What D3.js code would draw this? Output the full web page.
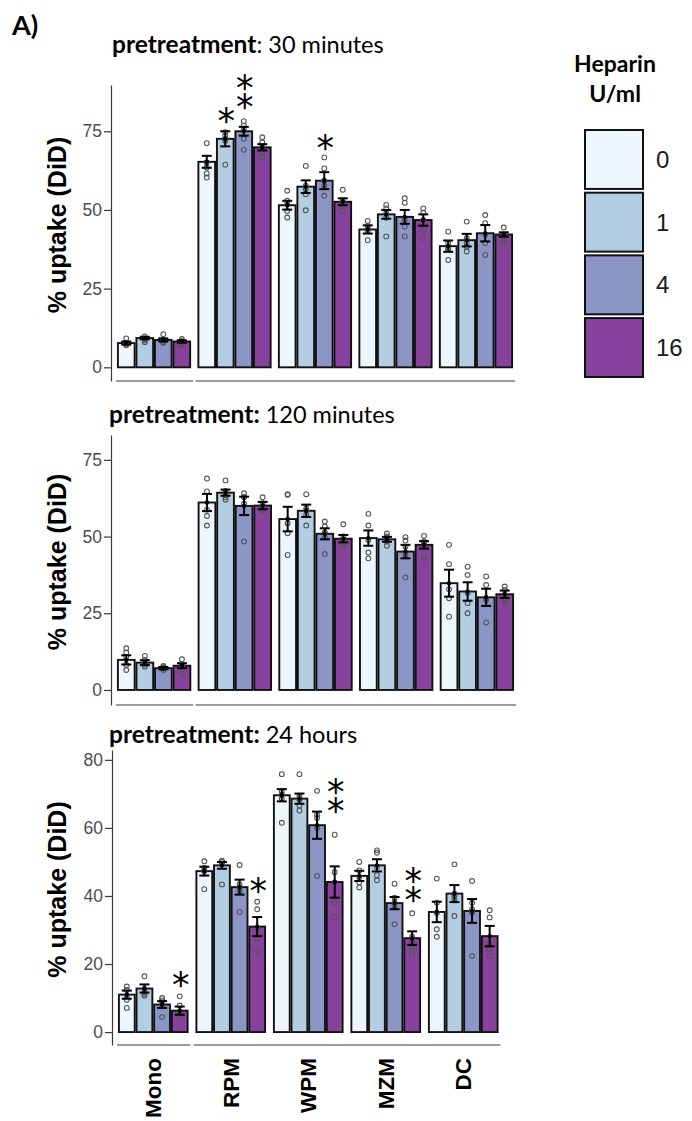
<!DOCTYPE html>
<html>
<head>
<meta charset="utf-8">
<script src="https://cdn.jsdelivr.net/npm/d3@7"></script>
<style>
  body { margin: 0; background: #fff; }
  svg { display: block; }
</style>
</head>
<body>
<svg id="chart" width="692" height="1121"></svg>
<script>
// ---- data ---------------------------------------------------------------
const cellTypes = ["Mono", "RPM", "WPM", "MZM", "DC"];
const heparinDoses = ["0", "1", "4", "16"];
const doseColours = ["#edf6fa", "#b3cde3", "#8c96c6", "#88419d"];

// 30 minute pretreatment: mean, SEM and replicate values per cell type x dose
const mean30 = [
  [7.7, 9.3, 8.7, 8.2],
  [65.3, 72.6, 75.0, 69.9],
  [51.5, 57.4, 59.3, 52.6],
  [43.8, 48.6, 47.8, 46.8],
  [38.5, 40.4, 42.6, 42.2]
];
const sem30 = [
  [0.5, 0.4, 0.5, 0.4],
  [1.9, 2.4, 1.4, 1.0],
  [1.4, 2.0, 2.7, 1.1],
  [1.3, 1.4, 2.2, 1.8],
  [1.8, 2.0, 2.6, 0.7]
];
const reps30 = [
  [[9.2, 7.5, 7.0, 7.2, 7.8], [9.8, 9.2, 8.5, 8.0, 9.0], [10.5, 8.5, 8.0, 7.8, 8.6], [9.0, 8.2, 7.5, 7.0, 8.3]],
  [[71.2, 65.1, 63.5, 61.6, 60.3], [74.7, 73.6, 72.5, 72.0, 64.4], [78.2, 76.8, 75.5, 72.6, 69.1], [73.1, 71.5, 69.9, 68.3, 66.9]],
  [[56.1, 52.9, 51.8, 49.7, 47.6], [64.0, 57.7, 56.6, 55.0, 49.9], [66.7, 63.2, 59.3, 57.7, 54.5], [56.4, 52.9, 52.5, 51.3, 49.7]],
  [[46.5, 44.9, 44.3, 43.3, 40.4], [51.6, 50.5, 49.0, 47.5, 41.6], [53.7, 52.3, 46.8, 44.7, 41.6], [50.5, 49.1, 46.8, 43.6, 41.0]],
  [[43.1, 39.4, 37.8, 37.3, 34.1], [46.3, 41.0, 39.4, 38.3, 36.8], [48.4, 45.8, 42.1, 39.4, 35.7], [44.4, 42.1, 41.7, 41.0, 39.4]]
];
const stars30 = [
  { type: "RPM", dose: "1", label: "*", at: 80.8 },
  { type: "RPM", dose: "4", label: "**", at: 88.1 },
  { type: "WPM", dose: "4", label: "*", at: 72.1 }
];

// 120 minute pretreatment
const mean120 = [
  [9.8, 8.9, 7.1, 7.9],
  [61.1, 64.3, 60.0, 60.1],
  [55.7, 58.4, 50.9, 49.3],
  [49.5, 49.1, 45.1, 47.3],
  [34.8, 32.1, 30.2, 31.2]
];
const sem120 = [
  [1.5, 0.8, 0.4, 0.8],
  [2.8, 1.0, 3.0, 1.2],
  [4.0, 2.0, 1.8, 1.2],
  [2.5, 0.8, 2.2, 1.2],
  [4.4, 3.0, 2.8, 1.2]
];
const reps120 = [
  [[13.6, 12.2, 10.7, 8.2, 6.5], [11.1, 9.8, 8.7, 8.2, 7.6], [7.8, 7.4, 7.2, 7.0, 6.5], [10.0, 8.5, 7.8, 7.6, 5.4]],
  [[68.9, 64.7, 58.7, 56.7, 53.6], [68.3, 64.9, 63.5, 62.8, 62.0], [64.1, 63.0, 62.8, 60.7, 48.4], [62.8, 60.9, 59.8, 58.7, 58.5]],
  [[63.8, 63.6, 54.3, 51.1, 44.0], [63.8, 59.2, 58.5, 57.1, 53.6], [54.9, 53.3, 51.4, 49.7, 44.3], [54.0, 50.0, 48.9, 48.0, 46.7]],
  [[57.4, 53.6, 48.9, 44.8, 42.9], [51.0, 50.0, 49.3, 48.4, 47.0], [49.8, 48.7, 46.7, 44.0, 36.7], [50.2, 48.4, 47.8, 46.5, 42.9]],
  [[47.3, 41.0, 32.8, 29.9, 23.9], [40.2, 37.5, 31.7, 28.3, 25.0], [37.0, 34.2, 29.9, 29.3, 22.0], [33.7, 32.6, 31.0, 29.3, 28.3]]
];
const stars120 = [];

// 24 hour pretreatment
const mean24 = [
  [11.0, 12.8, 8.1, 6.3],
  [47.3, 49.0, 42.6, 31.0],
  [69.6, 68.6, 60.8, 44.1],
  [45.9, 49.0, 37.9, 27.6],
  [35.3, 40.7, 35.6, 28.2]
];
const sem24 = [
  [1.2, 1.2, 1.0, 1.2],
  [1.3, 1.0, 2.2, 2.8],
  [1.8, 1.5, 4.0, 4.6],
  [1.5, 1.8, 1.8, 2.0],
  [3.0, 2.5, 3.5, 3.0]
];
const reps24 = [
  [[13.4, 12.4, 10.7, 9.5, 7.1], [16.4, 12.7, 11.7, 11.2, 10.7], [10.0, 9.3, 8.8, 7.8, 4.4], [10.5, 7.8, 5.9, 5.4, 4.4]],
  [[50.2, 48.3, 47.5, 47.3, 42.0], [50.4, 50.0, 49.5, 49.3, 43.4], [49.1, 43.4, 42.4, 41.5, 35.3], [38.3, 36.1, 30.2, 27.3, 23.7]],
  [[75.8, 70.7, 69.8, 68.6, 61.5], [75.8, 69.3, 68.3, 66.6, 65.1], [70.9, 63.9, 62.9, 60.0, 45.9], [58.0, 47.0, 44.0, 38.0, 33.7]],
  [[50.0, 47.5, 45.5, 44.0, 42.5], [53.4, 52.7, 48.5, 46.1, 44.6], [43.6, 39.5, 38.2, 37.1, 31.7], [34.9, 28.0, 25.9, 24.4, 22.9]],
  [[45.1, 38.0, 35.0, 30.2, 28.0], [49.3, 40.7, 40.0, 39.0, 34.1], [44.4, 38.0, 36.1, 35.1, 22.4], [35.8, 33.7, 25.9, 24.4, 22.4]]
];
const stars24 = [
  { type: "Mono", dose: "16", label: "*", at: 16.1 },
  { type: "RPM", dose: "16", label: "*", at: 43.7 },
  { type: "WPM", dose: "16", label: "**", at: 69.9 },
  { type: "MZM", dose: "16", label: "**", at: 43.9 }
];

const ticks30 = [0, 25, 50, 75];
const ticks120 = [0, 25, 50, 75];
const ticks24 = [0, 20, 40, 60, 80];

// ---- panel layout --------------------------------------------------------
const panels = [
  {
    titleBold: "pretreatment", titleRest: ": 30 minutes", titleX: 112, titleY: 53,
    mean: mean30, sem: sem30, reps: reps30, stars: stars30, ticks: ticks30,
    yDomain: [-4.35, 89.7], yRange: [381, 85], axisX: 111, xRange: [117, 513], pad: 0.08
  },
  {
    titleBold: "pretreatment:", titleRest: " 120 minutes", titleX: 109, titleY: 423,
    mean: mean120, sem: sem120, reps: reps120, stars: stars120, ticks: ticks120,
    yDomain: [-4.9, 83.1], yRange: [705, 435], axisX: 111, xRange: [117, 514], pad: 0.08
  },
  {
    titleBold: "pretreatment:", titleRest: " 24 hours", titleX: 109, titleY: 743,
    mean: mean24, sem: sem24, reps: reps24, stars: stars24, ticks: ticks24,
    yDomain: [-3.8, 82.9], yRange: [1045, 750], axisX: 112, xRange: [118, 498.5], pad: 0.09
  }
];

const svg = d3.select("#chart");
const titleFont = "Lato, 'Open Sans', sans-serif";
const axisFont = "'Liberation Sans', Arial, sans-serif";

svg.append("text")
  .attr("x", 12).attr("y", 35)
  .attr("font-family", titleFont).attr("font-weight", 700).attr("font-size", 27)
  .attr("fill", "#000")
  .text("A)");

const colour = d3.scaleOrdinal().domain(heparinDoses).range(doseColours);

panels.forEach((p, pi) => {
  const g = svg.append("g");
  const y = d3.scaleLinear().domain(p.yDomain).range(p.yRange);
  const x = d3.scaleBand().domain(cellTypes).range(p.xRange).paddingInner(p.pad).paddingOuter(0);
  const xd = d3.scaleBand().domain(heparinDoses).range([0, x.bandwidth()]).padding(0);

  // panel title
  const t = g.append("text")
    .attr("x", p.titleX).attr("y", p.titleY)
    .attr("font-family", titleFont).attr("font-size", 23.5).attr("fill", "#000");
  t.append("tspan").attr("font-weight", 700).attr("font-size", 24.5).text(p.titleBold);
  t.append("tspan").attr("font-weight", 400).text(p.titleRest);

  // y axis
  const yAxis = d3.axisLeft(y).tickValues(p.ticks).tickSize(7).tickSizeOuter(0).tickPadding(2);
  const ax = g.append("g").attr("transform", `translate(${p.axisX},0)`).call(yAxis);
  ax.select(".domain").attr("stroke", "#3a3a3a").attr("stroke-width", 1.2);
  ax.selectAll(".tick line").attr("stroke", "#3a3a3a").attr("stroke-width", 1.2);
  ax.selectAll(".tick text")
    .attr("font-family", axisFont).attr("font-size", 17.5).attr("fill", "#4d4d4d");

  // y axis title
  const midY = (p.yRange[0] + p.yRange[1]) / 2 - 8;
  g.append("text")
    .attr("transform", `translate(66,${midY}) rotate(-90)`)
    .attr("text-anchor", "middle")
    .attr("font-family", axisFont).attr("font-weight", 700).attr("font-size", 25)
    .attr("fill", "#000")
    .text("% uptake (DiD)");

  // x axis baselines: one under Mono, one spanning the tissue-resident cells
  const baseY = p.yRange[0];
  const segs = [
    [x("Mono") - 1, x("Mono") + x.bandwidth() + 2],
    [x("RPM") - 2, x("DC") + x.bandwidth() + 2]
  ];
  g.selectAll("line.base").data(segs).join("line")
    .attr("class", "base")
    .attr("x1", d => d[0]).attr("x2", d => d[1])
    .attr("y1", baseY).attr("y2", baseY)
    .attr("stroke", "#3a3a3a").attr("stroke-width", 1.2);

  // flatten bar records
  const bars = [];
  cellTypes.forEach((ct, ci) => heparinDoses.forEach((ds, di) => {
    bars.push({ ct, ds, mean: p.mean[ci][di], sem: p.sem[ci][di], reps: p.reps[ci][di] });
  }));
  const bx = d => x(d.ct) + xd(d.ds);
  const bw = xd.bandwidth();

  g.selectAll("rect.bar").data(bars).join("rect")
    .attr("class", "bar")
    .attr("x", d => bx(d) + 0.9)
    .attr("width", bw - 1.8)
    .attr("y", d => y(d.mean))
    .attr("height", d => y(0) - y(d.mean))
    .attr("fill", d => colour(d.ds))
    .attr("stroke", "#111").attr("stroke-width", 1.9);

  // replicate points
  const pts = bars.flatMap(b => b.reps.map(v => ({ b, v })));
  g.selectAll("circle.rep").data(pts).join("circle")
    .attr("class", "rep")
    .attr("cx", d => bx(d.b) + bw / 2)
    .attr("cy", d => y(d.v))
    .attr("r", 2.4)
    .attr("fill", "none").attr("stroke", "#555").attr("stroke-width", 1.1);

  // error bars (mean +/- SEM) with mean marker
  const cap = 5;
  const eb = g.selectAll("g.err").data(bars).join("g").attr("class", "err")
    .attr("stroke", "#000").attr("stroke-width", 2);
  eb.append("line")
    .attr("x1", d => bx(d) + bw / 2).attr("x2", d => bx(d) + bw / 2)
    .attr("y1", d => y(d.mean - d.sem)).attr("y2", d => y(d.mean + d.sem));
  eb.append("line")
    .attr("x1", d => bx(d) + bw / 2 - cap).attr("x2", d => bx(d) + bw / 2 + cap)
    .attr("y1", d => y(d.mean + d.sem)).attr("y2", d => y(d.mean + d.sem));
  eb.append("line")
    .attr("x1", d => bx(d) + bw / 2 - cap).attr("x2", d => bx(d) + bw / 2 + cap)
    .attr("y1", d => y(d.mean - d.sem)).attr("y2", d => y(d.mean - d.sem));
  g.selectAll("circle.mean").data(bars).join("circle")
    .attr("class", "mean")
    .attr("cx", d => bx(d) + bw / 2).attr("cy", d => y(d.mean))
    .attr("r", 2.2).attr("fill", "#000");

  // significance marks: stacked asterisks share one text element
  const starSize = 35, starGap = 19;
  p.stars.forEach(s => {
    const cx = x(s.type) + xd(s.dose) + bw / 2 + 1;
    const cy = y(s.at);
    const chars = s.label.split("");
    const top = cy - (chars.length - 1) / 2 * starGap;
    const st = g.append("text")
      .attr("text-anchor", "middle")
      .attr("font-family", "'DejaVu Sans', sans-serif").attr("font-weight", 400)
      .attr("font-size", starSize).attr("fill", "#000");
    chars.forEach((c, k) => {
      st.append("tspan")
        .attr("x", cx).attr("y", top + k * starGap + starSize * 0.56)
        .text(c);
    });
  });

  // category labels under the last panel
  if (pi === panels.length - 1) {
    g.selectAll("text.cat").data(cellTypes).join("text")
      .attr("class", "cat")
      .attr("transform", d => `translate(${x(d) + x.bandwidth() / 2},1058) rotate(-90)`)
      .attr("text-anchor", "end").attr("dy", "0.36em")
      .attr("font-family", axisFont).attr("font-weight", 700).attr("font-size", 22.5)
      .attr("fill", "#000")
      .text(d => d);
  }
});

// ---- legend ---------------------------------------------------------------
const legend = svg.append("g");
legend.append("text")
  .attr("x", 615).attr("y", 72).attr("text-anchor", "middle")
  .attr("font-family", titleFont).attr("font-weight", 700).attr("font-size", 23)
  .text("Heparin");
legend.append("text")
  .attr("x", 615).attr("y", 102).attr("text-anchor", "middle")
  .attr("font-family", titleFont).attr("font-weight", 700).attr("font-size", 23)
  .text("U/ml");
const keyY = d3.scaleBand().domain(heparinDoses).range([130, 377]).paddingInner(0.06);
legend.selectAll("rect.key").data(heparinDoses).join("rect")
  .attr("class", "key")
  .attr("x", 585).attr("width", 58)
  .attr("y", d => keyY(d)).attr("height", keyY.bandwidth())
  .attr("fill", d => colour(d))
  .attr("stroke", "#111").attr("stroke-width", 2);
legend.selectAll("text.keylab").data(heparinDoses).join("text")
  .attr("class", "keylab")
  .attr("x", 656).attr("y", d => keyY(d) + keyY.bandwidth() / 2)
  .attr("dy", "0.36em")
  .attr("font-family", axisFont).attr("font-size", 24).attr("fill", "#1a1a1a")
  .text(d => d);
</script>
</body>
</html>
